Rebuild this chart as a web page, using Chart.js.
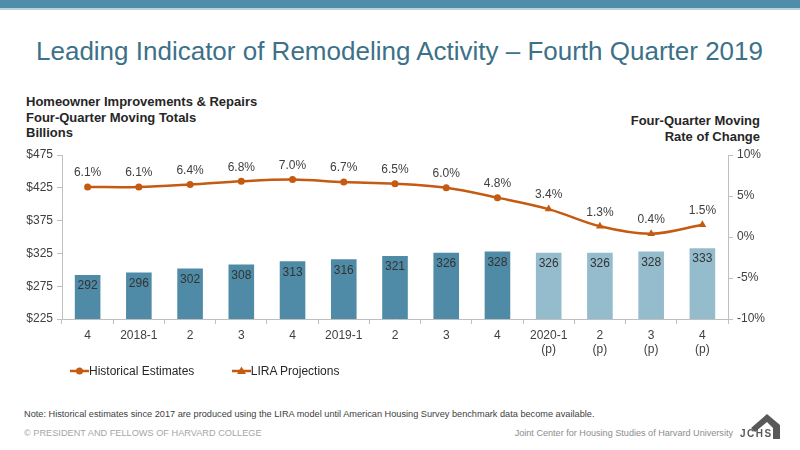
<!DOCTYPE html>
<html>
<head>
<meta charset="utf-8">
<script src="https://cdn.jsdelivr.net/npm/chart.js@4.4.1/dist/chart.umd.min.js"></script>
<style>
  body { margin: 0; width: 800px; height: 450px; overflow: hidden; background: #fff; font-family: "Liberation Sans", Arial, sans-serif; position: relative; }
  .abs { position: absolute; white-space: nowrap; }
  #band { left: 0; top: 0; width: 800px; height: 8px; background: #4f8ea9; border-bottom: 2px solid #b9d2de; }
  #title { left: 36px; top: 36px; font-size: 26px; color: #3c7189; }
  #leftTitle { left: 26px; top: 94px; font-size: 13px; font-weight: bold; color: #262626; line-height: 15.5px; }
  #rightTitle { right: 40px; top: 113px; font-size: 13px; font-weight: bold; color: #262626; line-height: 15.5px; text-align: right; }
  #chartBox { left: 0; top: 140px; width: 800px; height: 227px; }
  #legend { left: 70px; top: 364px; font-size: 12px; color: #262626; }
  #legend span { display: inline-block; margin-right: 34px; }
  #legend svg { vertical-align: -1px; }
  #note { left: 24px; top: 409px; font-size: 9.2px; color: #404040; }
  #copy { left: 24px; top: 428px; font-size: 9.2px; color: #a6a6a6; }
  #jc { right: 67px; top: 428px; font-size: 9.1px; color: #8c8c8c; }
  #jchs { left: 740px; top: 428px; font-size: 10px; font-weight: bold; color: #595959; letter-spacing: 1.5px; }
</style>
</head>
<body>
<div id="band" class="abs"></div>
<div id="title" class="abs">Leading Indicator of Remodeling Activity – Fourth Quarter 2019</div>
<div id="leftTitle" class="abs">Homeowner Improvements &amp; Repairs<br>Four-Quarter Moving Totals<br>Billions</div>
<div id="rightTitle" class="abs">Four-Quarter Moving<br>Rate of Change</div>
<div id="chartBox" class="abs"><canvas id="chart"></canvas></div>
<div id="legend" class="abs">
  <span><svg width="19" height="10"><line x1="0" y1="5" x2="19" y2="5" stroke="#c55a11" stroke-width="2.5"/><circle cx="9.5" cy="5" r="3.5" fill="#c55a11"/></svg>Historical Estimates</span>
  <span><svg width="19" height="10"><line x1="0" y1="5" x2="19" y2="5" stroke="#c55a11" stroke-width="2.5"/><polygon points="9.5,0.5 14,8 5,8" fill="#c55a11"/></svg>LIRA Projections</span>
</div>
<div id="note" class="abs">Note: Historical estimates since 2017 are produced using the LIRA model until American Housing Survey benchmark data become available.</div>
<div id="copy" class="abs">© PRESIDENT AND FELLOWS OF HARVARD COLLEGE</div>
<div id="jc" class="abs">Joint Center for Housing Studies of Harvard University</div>
<svg class="abs" style="left:0;top:0" width="800" height="450">
  <polygon points="751,428 767,414 780,425 780,439 773,439 773,428 767,422 755,432" fill="#595959"/>
</svg>
<div id="jchs" class="abs">JCHS</div>

<script>
'use strict';

// quarters, projections marked (p)
const quarters = [['4'], ['2018-1'], ['2'], ['3'], ['4'], ['2019-1'], ['2'], ['3'], ['4'],
  ['2020-1', '(p)'], ['2', '(p)'], ['3', '(p)'], ['4', '(p)']];
const spending = [292, 296, 302, 308, 313, 316, 321, 326, 328, 326, 326, 328, 333];
const rateOfChange = [6.1, 6.1, 6.4, 6.8, 7.0, 6.7, 6.5, 6.0, 4.8, 3.4, 1.3, 0.4, 1.5];
const projectionStart = 9;
const spendingTicks = [225, 275, 325, 375, 425, 475];
const rateTicks = [-10, -5, 0, 5, 10];

const darkTeal = '#4f8ba6';
const lightTeal = '#94bccd';
const orange = '#c55a11';
const axisGrey = '#bfbfbf';
const textGrey = '#404040';

let barColors = [];
let pointStyles = [];
for (let i = 0; i < quarters.length; i++) {
  barColors.push(i < projectionStart ? darkTeal : lightTeal);
  pointStyles.push(i < projectionStart ? 'circle' : 'triangle');
}

// value labels on bars and above points
const valueLabels = {
  id: 'valueLabels',
  afterDatasetsDraw(chart) {
    let ctx = chart.ctx;
    ctx.save();
    ctx.font = '12px "Liberation Sans", Arial, sans-serif';
    ctx.fillStyle = '#333333';
    ctx.textAlign = 'center';
    ctx.textBaseline = 'middle';
    let bars = chart.getDatasetMeta(0).data;
    for (let i = 0; i < bars.length; i++) {
      ctx.fillText(String(spending[i]), bars[i].x, bars[i].y + 11);
    }
    ctx.fillStyle = textGrey;
    let points = chart.getDatasetMeta(1).data;
    for (let i = 0; i < points.length; i++) {
      ctx.fillText(rateOfChange[i].toFixed(1) + '%', points[i].x, points[i].y - 14);
    }
    ctx.restore();
  }
};

const tickFont = { family: '"Liberation Sans", Arial, sans-serif', size: 12 };

new Chart(document.getElementById('chart').getContext('2d'), {
  data: {
    labels: quarters,
    datasets: [{
      type: 'bar',
      label: 'Homeowner Improvements & Repairs',
      data: spending,
      backgroundColor: barColors,
      barPercentage: 0.5,
      categoryPercentage: 1,
      yAxisID: 'y',
      order: 2
    }, {
      type: 'line',
      label: 'Rate of Change',
      data: rateOfChange,
      borderColor: orange,
      backgroundColor: orange,
      borderWidth: 2.5,
      tension: 0.35,
      pointStyle: pointStyles,
      pointRadius: pointStyles.map(s => s === 'circle' ? 3.5 : 4.5),
      pointBackgroundColor: orange,
      pointBorderWidth: 0,
      yAxisID: 'y1',
      order: 1
    }]
  },
  options: {
    responsive: true,
    maintainAspectRatio: false,
    animation: false,
    layout: { padding: { top: 15, bottom: 0, left: 0, right: 0 } },
    plugins: { legend: { display: false }, tooltip: { enabled: false } },
    scales: {
      x: {
        grid: { offset: true, drawOnChartArea: false, tickLength: 5, color: axisGrey },
        border: { color: axisGrey },
        ticks: { font: tickFont, color: textGrey, padding: 4, maxRotation: 0, autoSkip: false },
        afterFit(scale) { scale.height = 48; }
      },
      y: {
        position: 'left',
        min: 225,
        max: 475,
        afterBuildTicks(scale) { scale.ticks = spendingTicks.map(v => ({ value: v })); },
        grid: { drawOnChartArea: false, tickLength: 5, color: axisGrey },
        border: { color: axisGrey },
        ticks: { font: tickFont, color: textGrey, padding: 4, callback: v => '$' + v },
        afterFit(scale) { scale.width = 62; }
      },
      y1: {
        position: 'right',
        min: -10,
        max: 10,
        afterBuildTicks(scale) { scale.ticks = rateTicks.map(v => ({ value: v })); },
        grid: { drawOnChartArea: false, tickLength: 5, color: axisGrey },
        border: { color: axisGrey },
        ticks: { font: tickFont, color: textGrey, padding: 4, callback: v => v + '%' },
        afterFit(scale) { scale.width = 72; }
      }
    }
  },
  plugins: [valueLabels]
});
</script>
</body>
</html>
